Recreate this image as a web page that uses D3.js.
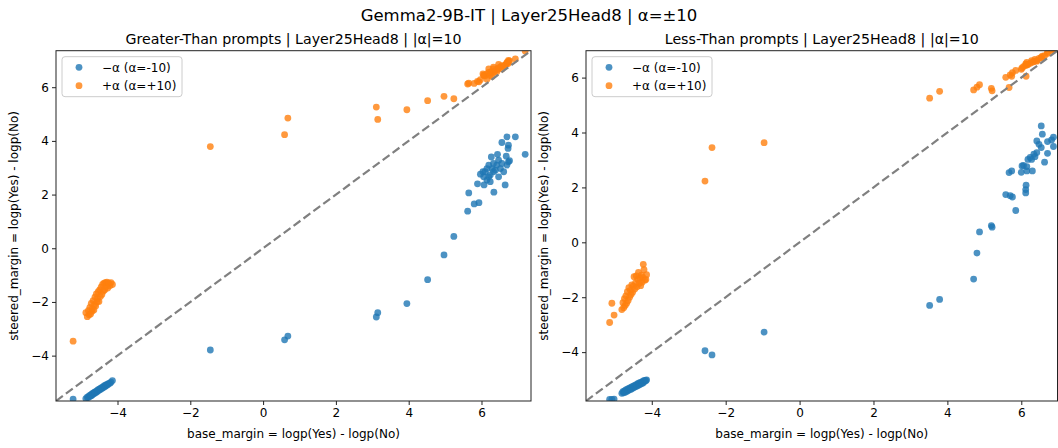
<!DOCTYPE html>
<html>
<head>
<meta charset="utf-8">
<script src="https://cdn.jsdelivr.net/npm/d3@7"></script>
<style>
  body { margin: 0; background: #fff; }
  svg { font-family: "DejaVu Sans", sans-serif; }
</style>
</head>
<body>
<svg id="chart"></svg>
<script>
// Greater-Than panel: base margin, steered with -alpha, steered with +alpha
const gtBase = [
  -5.22,
  -4.87, -4.83, -4.80, -4.78, -4.76, -4.74, -4.72, -4.70, -4.69, -4.67, -4.65, -4.63,
  -4.62, -4.60, -4.58, -4.56, -4.55, -4.53, -4.51, -4.49, -4.47, -4.45, -4.43, -4.41,
  -4.39, -4.37, -4.35, -4.33, -4.31, -4.29, -4.27, -4.24, -4.21, -4.18, -4.14,
  -1.45, 0.59, 0.68, 3.11, 3.15, 3.95, 4.52, 4.97, 5.24, 5.62, 5.65, 5.80, 5.93,
  5.89, 6.07, 6.34, 5.97, 6.10, 6.15, 6.24, 6.29, 6.20, 6.38, 6.47, 6.52, 6.56,
  6.65, 6.70, 6.74, 6.27, 6.44, 6.68, 6.56, 6.70, 6.74, 6.73, 6.93, 7.20, 6.06,
  6.33, 6.15, 6.42, 6.24, 6.33, 6.61, 6.77, 6.04, 6.20, 6.47
];
const gtNeg = [
  -5.62,
  -5.60, -5.55, -5.56, -5.50, -5.52, -5.46, -5.49, -5.43, -5.46, -5.40, -5.42, -5.36,
  -5.39, -5.34, -5.36, -5.30, -5.33, -5.27, -5.29, -5.24, -5.26, -5.20, -5.22, -5.17,
  -5.19, -5.13, -5.16, -5.10, -5.12, -5.07, -5.08, -5.03, -5.03, -4.99, -4.93,
  -3.79, -3.41, -3.27, -2.56, -2.40, -2.06, -1.17, -0.25, 0.44, 1.38, 2.06, 1.65, 1.70,
  2.40, 2.36, 2.09, 2.76, 2.85, 2.54, 2.73, 2.97, 3.10, 2.91, 2.66, 2.97, 3.16,
  2.36, 3.10, 3.22, 3.40, 3.50, 3.43, 3.94, 4.15, 3.84, 3.72, 4.15, 3.50, 2.66,
  3.16, 2.97, 3.10, 2.48, 2.85, 2.85, 3.26, 2.85, 2.66, 3.28
];
const gtPos = [
  -3.46,
  -2.40, -2.55, -2.32, -2.48, -2.20, -2.45, -2.05, -2.35, -2.25, -1.95, -2.30, -2.10,
  -1.82, -2.15, -1.70, -2.00, -1.88, -1.62, -1.98, -1.55, -1.80, -1.45, -1.72, -1.35,
  -1.60, -1.30, -1.55, -1.28, -1.42, -1.26, -1.48, -1.30, -1.40, -1.28, -1.35,
  3.79, 4.23, 4.85, 5.26, 4.80, 5.16, 5.50, 5.66, 5.57, 6.12, 6.15, 6.14, 6.20,
  6.22, 6.45, 6.55, 6.28, 6.42, 6.30, 6.52, 6.40, 6.68, 6.62, 6.85, 6.75, 6.68,
  6.82, 6.90, 6.95, 6.58, 6.66, 6.86, 6.80, 6.92, 7.00, 6.88, 7.05, 7.35, 6.45,
  6.75, 6.50, 6.58, 6.44, 6.68, 6.78, 6.98, 6.50, 6.55, 6.72
];

// Less-Than panel
const ltBase = [
  -5.14, -5.08, -5.02,
  -4.81, -4.78, -4.76, -4.74, -4.72, -4.70, -4.68, -4.66, -4.64, -4.62, -4.60, -4.58,
  -4.56, -4.54, -4.52, -4.50, -4.48, -4.46, -4.44, -4.42, -4.40, -4.38, -4.36, -4.34,
  -4.32, -4.30, -4.28, -4.26, -4.24, -4.23, -4.21, -4.19, -4.16, -4.14,
  -2.56, -2.37, -0.96, 3.52, 3.79, 4.71, 4.80, 4.87, 5.19, 5.21, 5.58, 5.67, 5.70,
  5.76, 5.74, 5.85, 6.00, 6.02, 6.13, 6.12, 6.12, 6.54, 6.57, 6.87, 6.82, 6.71,
  6.42, 6.48, 6.54, 6.87, 6.71, 6.63, 6.42, 6.34, 6.24, 6.18, 6.28, 6.37, 6.06,
  6.15, 6.30, 6.15
];
const ltNeg = [
  -5.72, -5.72, -5.71,
  -5.50, -5.44, -5.48, -5.41, -5.46, -5.38, -5.43, -5.35, -5.40, -5.32, -5.37, -5.29,
  -5.35, -5.27, -5.32, -5.24, -5.29, -5.21, -5.26, -5.18, -5.23, -5.15, -5.21, -5.12,
  -5.18, -5.10, -5.15, -5.08, -5.12, -5.05, -5.09, -5.03, -5.04, -5.01,
  -3.95, -4.10, -3.27, -2.30, -2.08, -1.34, -0.39, 0.38, 0.61, 0.55, 1.74, 2.54, 1.70,
  1.65, 2.60, 1.16, 2.55, 2.78, 2.08, 1.92, 1.80, 4.24, 3.94, 3.83, 3.73, 3.67,
  3.69, 3.57, 3.45, 3.49, 3.24, 2.92, 3.27, 3.21, 3.09, 3.02, 3.02, 3.12, 2.80,
  2.60, 2.60, 2.76
];
const ltPos = [
  -2.92, -2.22, -2.65,
  -2.45, -2.20, -2.38, -2.05, -2.30, -1.95, -2.22, -1.80, -2.12, -1.65, -2.00, -1.75,
  -1.90, -1.55, -1.82, -1.60, -1.25, -1.70, -1.48, -1.22, -1.62, -1.35, -1.10, -1.50,
  -1.30, -1.58, -1.20, -1.45, -1.28, -0.80, -1.00, -1.38, -1.35, -1.18,
  2.23, 3.45, 3.63, 5.25, 5.50, 5.55, 5.65, 5.74, 5.61, 5.52, 6.01, 5.64, 6.10,
  6.18, 6.05, 6.26, 6.30, 6.35, 6.05, 6.45, 6.50, 6.72, 6.78, 7.00, 6.98, 6.88,
  6.62, 6.70, 6.74, 7.05, 6.92, 6.80, 6.60, 6.58, 6.52, 6.48, 6.62, 6.66, 6.40,
  6.55, 6.56, 6.46
];

const xTicks = [-4, -2, 0, 2, 4, 6];
const yTicks = [-4, -2, 0, 2, 4, 6];
const legendLabels = ["\u2212\u03b1 (\u03b1=-10)", "+\u03b1 (\u03b1=+10)"];

const blue = "#1f77b4", orange = "#ff7f0e";
const width = 1058, height = 448;

let svg = d3.select("#chart")
    .attr("width", width)
    .attr("height", height);

svg.append("text")
    .attr("x", 529).attr("y", 21)
    .attr("text-anchor", "middle")
    .style("font-size", "16.5px")
    .text("Gemma2-9B-IT | Layer25Head8 | \u03b1=\u00b110");

function drawPanel(p) {
    let g = svg.append("g").attr("transform", "translate(" + p.left + "," + p.top + ")");
    let w = p.w, h = p.h;

    let x = d3.scaleLinear().domain(p.lim).range([0, w]);
    let y = d3.scaleLinear().domain(p.lim).range([h, 0]);

    g.append("clipPath").attr("id", p.id + "clip")
        .append("rect").attr("width", w).attr("height", h);

    let plot = g.append("g").attr("clip-path", "url(#" + p.id + "clip)");

    // -alpha points
    plot.selectAll(".neg")
        .data(p.base)
        .enter().append("circle")
        .attr("cx", d => x(d))
        .attr("cy", (d, i) => y(p.neg[i]))
        .attr("r", 3.4)
        .attr("fill", blue)
        .attr("fill-opacity", 0.8);

    // +alpha points
    plot.selectAll(".pos")
        .data(p.base)
        .enter().append("circle")
        .attr("cx", d => x(d))
        .attr("cy", (d, i) => y(p.pos[i]))
        .attr("r", 3.4)
        .attr("fill", orange)
        .attr("fill-opacity", 0.8);

    // y = x reference line
    plot.append("line")
        .attr("x1", x(p.lim[0])).attr("y1", y(p.lim[0]))
        .attr("x2", x(p.lim[1])).attr("y2", y(p.lim[1]))
        .attr("stroke", "#808080")
        .attr("stroke-width", 2.2)
        .attr("stroke-dasharray", "8.5,3.8");

    // axes
    let xAxis = g.append("g")
        .attr("transform", "translate(0," + h + ")")
        .call(d3.axisBottom(x).tickValues(xTicks).tickSize(4).tickPadding(3));
    let yAxis = g.append("g")
        .call(d3.axisLeft(y).tickValues(yTicks).tickSize(4).tickPadding(3));
    [xAxis, yAxis].forEach(a => {
        a.select(".domain").remove();
        a.selectAll("line").attr("stroke", "#222");
        a.selectAll("text").style("font-size", "12px").attr("fill", "#000")
            .style("font-family", "DejaVu Sans");
    });

    g.append("rect")
        .attr("width", w).attr("height", h)
        .attr("fill", "none").attr("stroke", "#222").attr("stroke-width", 1);

    g.append("text")
        .attr("x", w / 2).attr("y", -7)
        .attr("text-anchor", "middle")
        .style("font-size", "14.2px")
        .text(p.title);

    g.append("text")
        .attr("x", w / 2).attr("y", h + 37)
        .attr("text-anchor", "middle")
        .style("font-size", "12px")
        .text("base_margin = logp(Yes) - logp(No)");

    g.append("text")
        .attr("transform", "translate(" + (p.ylabelX) + "," + (h / 2) + ") rotate(-90)")
        .attr("text-anchor", "middle")
        .style("font-size", "12px")
        .text("steered_margin = logp(Yes) - logp(No)");

    // legend
    let lg = g.append("g").attr("transform", "translate(6,6)");
    lg.append("rect")
        .attr("width", 120).attr("height", 40).attr("rx", 3)
        .attr("fill", "#fff").attr("fill-opacity", 0.8)
        .attr("stroke", "#cccccc");
    [blue, orange].forEach((c, i) => {
        lg.append("circle")
            .attr("cx", 17).attr("cy", 10.6 + i * 18.4)
            .attr("r", 3.4).attr("fill", c).attr("fill-opacity", 0.8);
        lg.append("text")
            .attr("x", 40).attr("y", 10.6 + i * 18.4 + 4.3)
            .style("font-size", "12px")
            .text(legendLabels[i]);
    });
}

drawPanel({
    id: "gt", left: 56, top: 50.7, w: 475, h: 350.3,
    lim: [-5.69, 7.36],
    base: gtBase, neg: gtNeg, pos: gtPos,
    title: "Greater-Than prompts | Layer25Head8 | |\u03b1|=10",
    ylabelX: -38
});

drawPanel({
    id: "lt", left: 586, top: 50.7, w: 471.5, h: 350.3,
    lim: [-5.78, 6.98],
    base: ltBase, neg: ltNeg, pos: ltPos,
    title: "Less-Than prompts | Layer25Head8 | |\u03b1|=10",
    ylabelX: -38
});
</script>
</body>
</html>
